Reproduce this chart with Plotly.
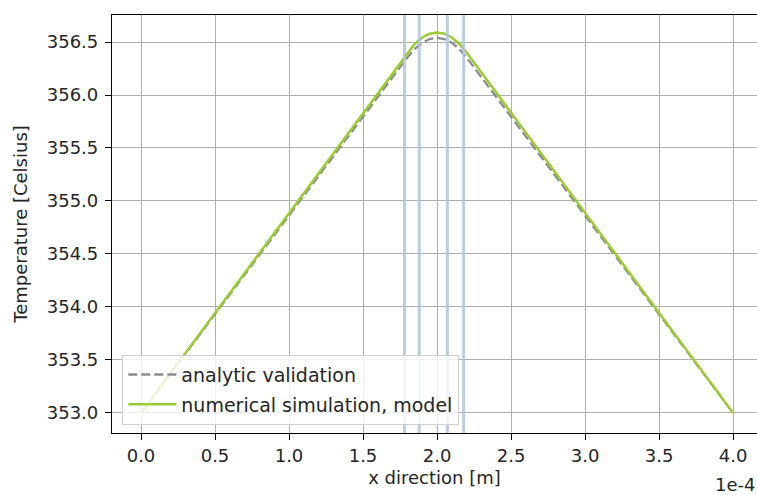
import plotly.graph_objects as go

# x positions in units of 1e-4 m
x_analytic = [0.0, 1.8, 1.85, 1.9, 1.95, 2.0, 2.05, 2.1, 2.15, 2.2, 4.0]
t_analytic = [353.0, 356.354, 356.435, 356.494, 356.528, 356.54, 356.528, 356.494, 356.435, 356.354, 353.0]

x_numeric = [0.0, 1.8, 1.85, 1.9, 1.95, 2.0, 2.05, 2.1, 2.15, 2.2, 4.0]
t_numeric = [353.0, 356.401, 356.484, 356.543, 356.578, 356.59, 356.578, 356.543, 356.484, 356.401, 353.0]

source_lines = [1.78, 1.88, 2.07, 2.18]

x_tick_vals = [0.0, 0.5, 1.0, 1.5, 2.0, 2.5, 3.0, 3.5, 4.0]
x_tick_text = ["0.0", "0.5", "1.0", "1.5", "2.0", "2.5", "3.0", "3.5", "4.0"]
y_tick_vals = [353.0, 353.5, 354.0, 354.5, 355.0, 355.5, 356.0, 356.5]
y_tick_text = ["353.0", "353.5", "354.0", "354.5", "355.0", "355.5", "356.0", "356.5"]

scale = 1e-4
FS = 18
TXT = "#262626"

fig = go.Figure()

for xv in source_lines:
    fig.add_shape(type="line", xref="x", yref="paper", x0=xv * scale, x1=xv * scale,
                  y0=0, y1=1, line=dict(color="rgba(176,196,222,0.85)", width=3), layer="above")

fig.add_trace(go.Scatter(x=[v * scale for v in x_analytic], y=t_analytic, mode="lines",
                         name="analytic validation", legendgroup="a",
                         line=dict(color="#8c8c8c", width=2.3, dash="9px,4px")))
fig.add_trace(go.Scatter(x=[v * scale for v in x_numeric], y=t_numeric, mode="lines",
                         name="numerical simulation, model", legendgroup="b",
                         line=dict(color="#9acd32", width=2.5)))

fig.update_layout(
    width=757, height=495,
    margin=dict(l=112, r=0, t=15, b=62),
    paper_bgcolor="white", plot_bgcolor="white",
    font=dict(family="DejaVu Sans", size=FS, color=TXT),
    showlegend=True,
    legend=dict(x=0.016, y=0.02, xanchor="left", yanchor="bottom",
                bgcolor="rgba(255,255,255,0.8)", bordercolor="#d0d0d0", borderwidth=1,
                font=dict(family="DejaVu Sans", size=19, color=TXT),
                tracegroupgap=2, itemwidth=48),
    xaxis=dict(range=[-0.196e-4, 4.162e-4], tickvals=[v * scale for v in x_tick_vals],
               ticktext=x_tick_text, showgrid=True, gridcolor="#b0b0b0", gridwidth=1.2,
               zeroline=False, showline=True, linecolor="black", linewidth=1.2, mirror=True,
               ticks="outside", ticklen=6, tickcolor="black", tickwidth=1.2,
               tickfont=dict(family="DejaVu Sans", size=FS, color=TXT),
               title=dict(text="x direction [m]", standoff=6,
                          font=dict(family="DejaVu Sans", size=FS, color=TXT))),
    yaxis=dict(range=[352.81, 356.755], tickvals=y_tick_vals, ticktext=y_tick_text,
               showgrid=True, gridcolor="#b0b0b0", gridwidth=1.2,
               zeroline=False, showline=True, linecolor="black", linewidth=1.2, mirror=True,
               ticks="outside", ticklen=6, tickcolor="black", tickwidth=1.2,
               ticklabelstandoff=3,
               tickfont=dict(family="DejaVu Sans", size=FS, color=TXT),
               title=dict(text="Temperature [Celsius]", standoff=14,
                          font=dict(family="DejaVu Sans", size=FS, color=TXT))),
    annotations=[dict(text="1e-4", xref="paper", yref="paper", x=1.0, y=-0.093,
                      xanchor="right", yanchor="top", showarrow=False,
                      font=dict(family="DejaVu Sans", size=FS, color=TXT))],
)

fig.write_html("out.html")
